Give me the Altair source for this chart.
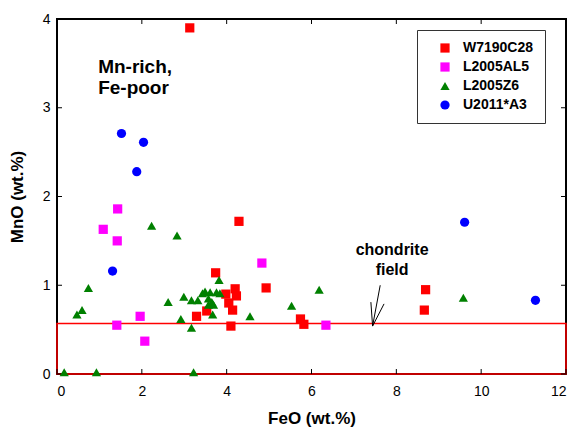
import altair as alt
import pandas as pd

# ---- data ----
series_names = ["W7190C28", "L2005AL5", "L2005Z6", "U2011*A3"]
series_colors = ["#FF0000", "#FF00FF", "#008000", "#0000FF"]
series_shapes = ["square", "square", "triangle-up", "circle"]
series_sizes = [85, 85, 150, 95]

w7190_feo = [3.13, 4.29, 3.74, 4.20, 4.93, 3.98, 4.23, 4.05, 4.14, 3.53, 3.29, 4.10, 5.74, 5.82, 8.69, 8.66]
w7190_mno = [3.90, 1.72, 1.14, 0.96, 0.97, 0.90, 0.88, 0.80, 0.72, 0.71, 0.65, 0.54, 0.62, 0.56, 0.95, 0.72]

al5_feo = [1.43, 1.09, 1.42, 1.41, 1.96, 2.07, 4.83, 6.34]
al5_mno = [1.86, 1.63, 1.50, 0.55, 0.65, 0.37, 1.25, 0.55]

z6_feo = [0.17, 0.93, 3.22, 0.47, 0.59, 0.74, 2.23, 2.83, 2.62, 2.99, 3.17, 3.32, 3.43, 3.49,
          3.61, 3.76, 3.84, 3.57, 3.65, 3.57, 3.69, 3.67, 3.82, 2.92, 3.17, 4.55, 5.53, 6.18, 9.58]
z6_mno = [0.02, 0.02, 0.02, 0.67, 0.72, 0.97, 1.67, 1.56, 0.81, 0.87, 0.83, 0.83, 0.91, 0.93,
          0.92, 0.92, 0.91, 0.85, 0.81, 0.78, 0.78, 0.67, 1.06, 0.62, 0.52, 0.65, 0.77, 0.95, 0.86]

a3_feo = [1.52, 2.04, 1.88, 1.31, 9.61, 11.28]
a3_mno = [2.71, 2.61, 2.28, 1.16, 1.71, 0.83]

x_ticks = [0, 2, 4, 6, 8, 10, 12]
y_ticks = [0, 1, 2, 3, 4]

# chondrite field box
field_feo = [0, 12]
field_mno = [0, 0.57]

# arrow segments (start -> tip)
arrow_x1 = [7.62, 7.40, 7.71]
arrow_y1 = [1.00, 0.81, 0.79]
arrow_x2 = [7.44, 7.44, 7.44]
arrow_y2 = [0.54, 0.54, 0.54]

chondrite_text = ["chondrite", "field"]
chondrite_x = [7.90, 7.90]
chondrite_y = [1.34, 1.12]

mn_text = ["Mn-rich,", "Fe-poor"]
mn_x = [0.97, 0.97]
mn_y = [3.395, 3.16]

FONT = "Liberation Sans"
W, H = 509, 355

rows = []
for name, xs, ys in [(series_names[0], w7190_feo, w7190_mno),
                     (series_names[1], al5_feo, al5_mno),
                     (series_names[2], z6_feo, z6_mno),
                     (series_names[3], a3_feo, a3_mno)]:
    for xv, yv in zip(xs, ys):
        rows.append({"series": name, "FeO": xv, "MnO": yv, "ord": series_names.index(name)})
df = pd.DataFrame(rows)

xscale = alt.Scale(domain=[0, 12], nice=False, zero=False)
yscale = alt.Scale(domain=[0, 4], nice=False, zero=False)

xaxis = alt.Axis(values=x_ticks, format="d", title="FeO (wt.%)", ticks=False, domain=False, grid=False,
                 labelFont=FONT, labelFontSize=14, labelColor="#000", labelPadding=10,
                 titleFont=FONT, titleFontSize=17, titleFontWeight="bold", titleColor="#000",
                 titlePadding=12)
yaxis = alt.Axis(values=y_ticks, format="d", title="MnO (wt.%)", ticks=False, domain=False, grid=False,
                 labelFont=FONT, labelFontSize=14, labelColor="#000", labelPadding=7,
                 titleFont=FONT, titleFontSize=17, titleFontWeight="bold", titleColor="#000",
                 titlePadding=16)

field = alt.Chart(pd.DataFrame({"x": [field_feo[0]], "x2": [field_feo[1]],
                                "y": [field_mno[0]], "y2": [field_mno[1]]})).mark_rect(
    fillOpacity=0, stroke="#FF0000", strokeWidth=1.5).encode(
    x=alt.X("x:Q", scale=xscale, axis=xaxis), x2="x2:Q",
    y=alt.Y("y:Q", scale=yscale, axis=yaxis), y2="y2:Q")

legend = alt.Legend(title=None, orient="none", legendX=360, legendY=11,
                    strokeColor="#333", fillColor="white",
                    padding=11, symbolOffset=10, labelOffset=11, rowPadding=5,
                    labelFont=FONT, labelFontSize=14, labelFontWeight="bold", labelColor="#000",
                    symbolSize=100, symbolStrokeWidth=0)

points = alt.Chart(df).mark_point(filled=True, opacity=1, strokeWidth=0).encode(
    x=alt.X("FeO:Q", scale=xscale),
    y=alt.Y("MnO:Q", scale=yscale),
    color=alt.Color("series:N", scale=alt.Scale(domain=series_names, range=series_colors), legend=legend),
    shape=alt.Shape("series:N", scale=alt.Scale(domain=series_names, range=series_shapes), legend=legend),
    size=alt.Size("series:N", scale=alt.Scale(domain=series_names, range=series_sizes), legend=None),
    order=alt.Order("ord:Q"),
)

arrow = alt.Chart(pd.DataFrame({"x": arrow_x1, "y": arrow_y1, "x2": arrow_x2, "y2": arrow_y2})).mark_rule(
    color="#000", strokeWidth=1).encode(
    x=alt.X("x:Q", scale=xscale), y=alt.Y("y:Q", scale=yscale), x2="x2:Q", y2="y2:Q")

chond = alt.Chart(pd.DataFrame({"t": chondrite_text, "x": chondrite_x, "y": chondrite_y})).mark_text(
    font=FONT, fontSize=16, fontWeight="bold", color="#000", align="center", baseline="alphabetic").encode(
    x=alt.X("x:Q", scale=xscale), y=alt.Y("y:Q", scale=yscale), text="t:N")

mn = alt.Chart(pd.DataFrame({"t": mn_text, "x": mn_x, "y": mn_y})).mark_text(
    font=FONT, fontSize=19, fontWeight="bold", color="#000", align="left", baseline="alphabetic").encode(
    x=alt.X("x:Q", scale=xscale), y=alt.Y("y:Q", scale=yscale), text="t:N")

tx = pd.DataFrame({"v": x_ticks})
ty = pd.DataFrame({"v": y_ticks})
tick_b = alt.Chart(tx).mark_rule(color="#000", strokeWidth=1).encode(
    x=alt.X("v:Q", scale=xscale), y=alt.value(H), y2=alt.value(H - 5))
tick_t = alt.Chart(tx).mark_rule(color="#000", strokeWidth=1).encode(
    x=alt.X("v:Q", scale=xscale), y=alt.value(0), y2=alt.value(5))
tick_l = alt.Chart(ty).mark_rule(color="#000", strokeWidth=1).encode(
    y=alt.Y("v:Q", scale=yscale), x=alt.value(0), x2=alt.value(5))
tick_r = alt.Chart(ty).mark_rule(color="#000", strokeWidth=1).encode(
    y=alt.Y("v:Q", scale=yscale), x=alt.value(W), x2=alt.value(W - 5))

chart = alt.layer(field, tick_b, tick_t, tick_l, tick_r, arrow, chond, mn, points).properties(
    width=W, height=H,
    autosize=alt.AutoSizeParams(type="none"),
    padding={"left": 57, "top": 19, "right": 7, "bottom": 56},
    background="white",
).configure_view(stroke="#000", strokeWidth=2)

chart.save("out.html", embed_options={"renderer": "svg", "actions": False})
